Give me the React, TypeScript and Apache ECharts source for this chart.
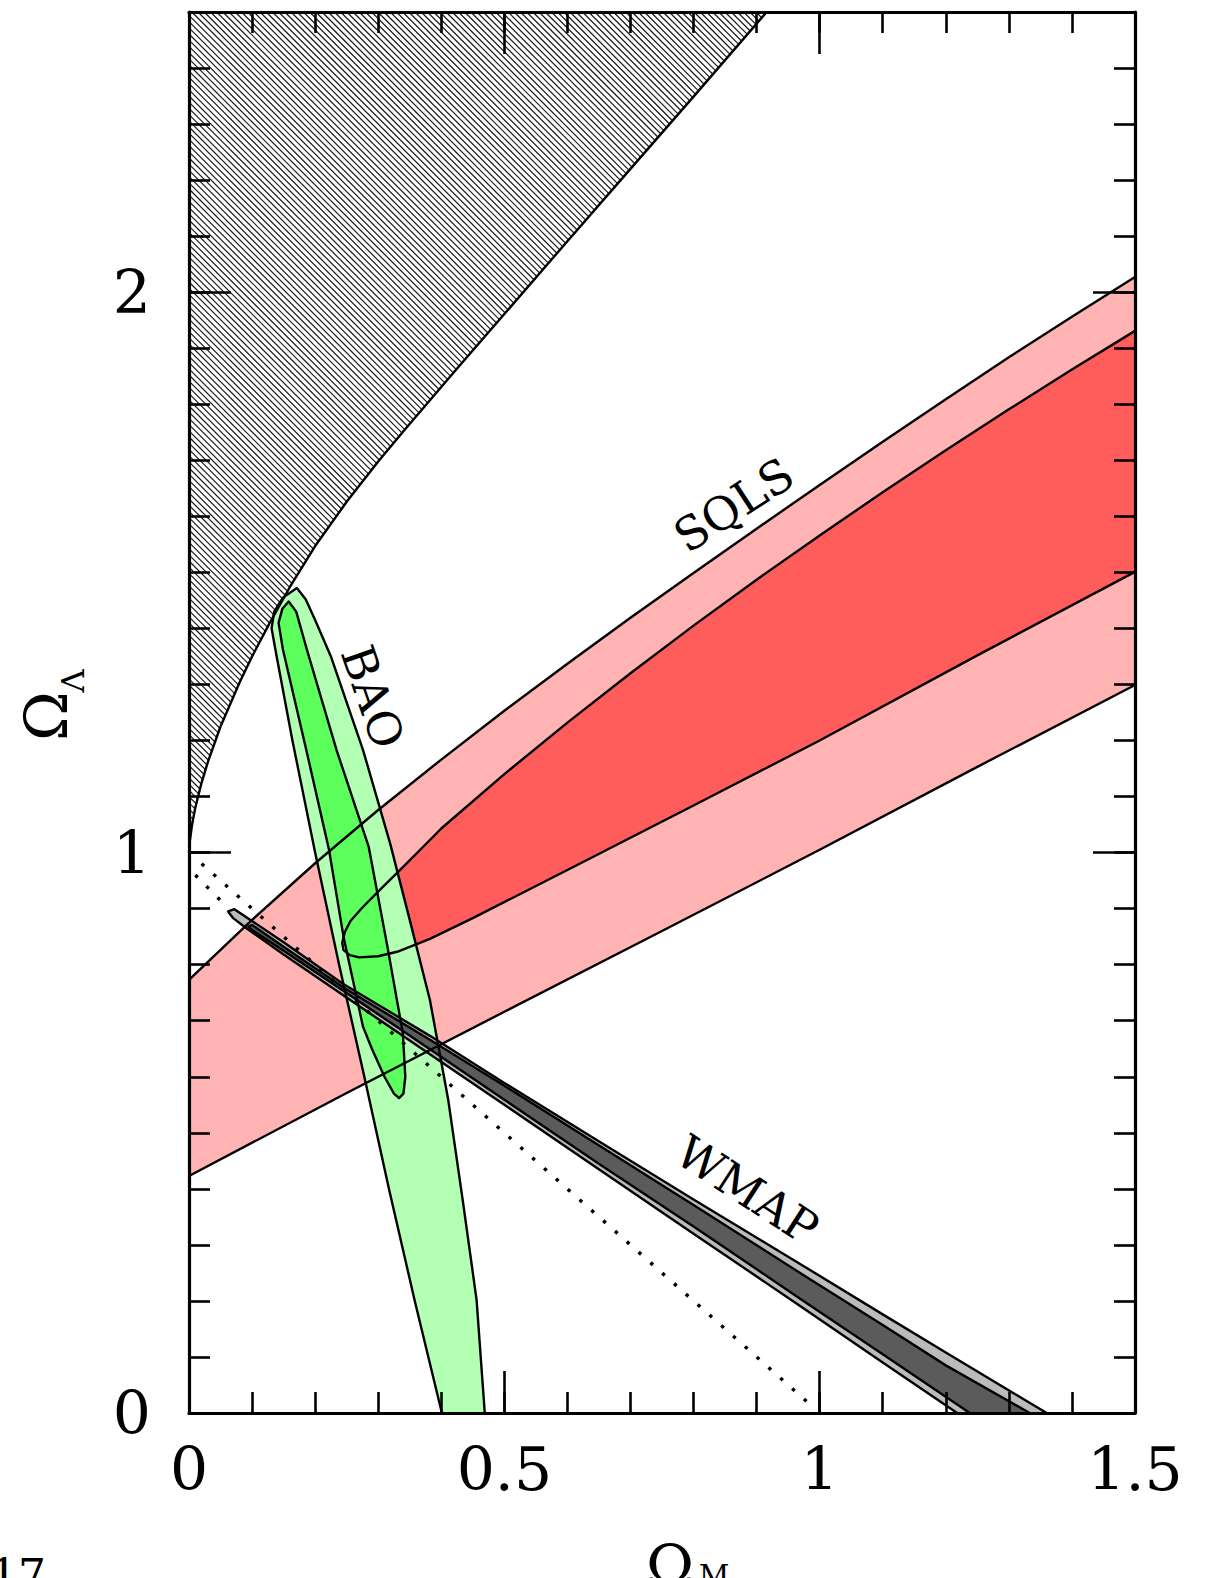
import React, { useEffect, useRef } from "react";
import * as echarts from "echarts";

type Pt = [number, number];

// ---- axis tick labels ----
const xTickLabels = ["0", "0.5", "1", "1.5"];
const yTickLabels = ["0", "1", "2"];

// ---- boundary of the hatched region (Omega_M, Omega_Lambda) ----
const hatchBoundary: Pt[] = [
  [0, 1.0], [0.001, 1.018], [0.005, 1.051], [0.01, 1.08], [0.02, 1.125], [0.03, 1.162], [0.05, 1.225],
  [0.08, 1.303], [0.1, 1.35], [0.128, 1.41], [0.16, 1.474], [0.2, 1.547], [0.25, 1.626], [0.3, 1.698],
  [0.34, 1.752], [0.42, 1.857], [0.5, 1.961], [0.6, 2.091], [0.7, 2.22], [0.8, 2.349], [0.916, 2.5],
];

// ---- SQLS contours ----
const sqlsOuterUpper: Pt[] = [
  [0, 0.773], [0.1, 0.88], [0.2, 0.981], [0.3, 1.076], [0.4, 1.166], [0.5, 1.253], [0.6, 1.337],
  [0.7, 1.419], [0.8, 1.499], [0.9, 1.578], [1.0, 1.656], [1.1, 1.733], [1.2, 1.809], [1.3, 1.884],
  [1.4, 1.956], [1.5, 2.027],
];
const sqlsOuterLower: Pt[] = [
  [0, 0.423], [0.25, 0.571], [0.5, 0.716], [0.75, 0.86], [1.0, 1.005], [1.25, 1.153], [1.5, 1.299],
];
const sqlsInnerUpper: Pt[] = [
  [0.243, 0.839], [0.247, 0.858], [0.256, 0.878], [0.275, 0.902], [0.303, 0.934], [0.34, 0.975],
  [0.371, 1.01], [0.4, 1.043], [0.5, 1.14], [0.6, 1.232], [0.7, 1.32], [0.8, 1.405], [0.9, 1.487],
  [1.0, 1.566], [1.1, 1.643], [1.2, 1.718], [1.3, 1.791], [1.4, 1.862], [1.5, 1.931],
];
const sqlsInnerLower: Pt[] = [
  [0.243, 0.839], [0.245, 0.826], [0.255, 0.817], [0.27, 0.813], [0.3, 0.815], [0.33, 0.823],
  [0.382, 0.846], [0.45, 0.883], [0.6, 0.969], [0.8, 1.084], [1.0, 1.2], [1.25, 1.352], [1.5, 1.501],
];

// ---- BAO contours ----
const baoOuter: Pt[] = [
  [0.401, 0], [0.358, 0.2], [0.317, 0.4], [0.278, 0.6], [0.238, 0.8], [0.2, 1.0], [0.164, 1.2],
  [0.139, 1.35], [0.131, 1.4], [0.135, 1.43], [0.149, 1.455], [0.171, 1.472], [0.185, 1.452],
  [0.2, 1.415], [0.225, 1.35], [0.276, 1.183], [0.319, 1.016], [0.35, 0.88], [0.382, 0.737],
  [0.411, 0.559], [0.434, 0.38], [0.456, 0.202], [0.469, 0],
];
const baoInner: Pt[] = [
  [0.158, 1.448], [0.17, 1.43], [0.187, 1.362], [0.234, 1.183], [0.285, 1.01], [0.315, 0.83],
  [0.339, 0.678], [0.343, 0.6], [0.34, 0.57], [0.333, 0.562], [0.325, 0.57], [0.31, 0.6],
  [0.29, 0.65], [0.276, 0.689], [0.245, 0.85], [0.222, 1.005], [0.186, 1.183], [0.149, 1.362],
  [0.142, 1.41], [0.148, 1.435],
];

// ---- WMAP contours ----
const wmapOuter: Pt[] = [
  [1.218, 0], [1.1, 0.09], [0.969, 0.191], [0.8, 0.32], [0.651, 0.434], [0.5, 0.55], [0.382, 0.64],
  [0.244, 0.746], [0.15, 0.818], [0.09, 0.866], [0.07, 0.883], [0.062, 0.895], [0.072, 0.899],
  [0.15, 0.84], [0.244, 0.766], [0.382, 0.673], [0.5, 0.589], [0.651, 0.484], [0.8, 0.381],
  [0.969, 0.266], [1.1, 0.176], [1.2, 0.108], [1.36, 0],
];
const wmapInner: Pt[] = [
  [1.238, 0], [1.1, 0.105], [0.969, 0.204], [0.8, 0.333], [0.651, 0.444], [0.5, 0.559], [0.382, 0.649],
  [0.244, 0.754], [0.15, 0.825], [0.1, 0.862], [0.094, 0.868], [0.1, 0.871], [0.15, 0.832],
  [0.244, 0.76], [0.382, 0.666], [0.5, 0.584], [0.651, 0.477], [0.8, 0.371], [0.969, 0.25],
  [1.1, 0.157], [1.2, 0.085], [1.333, 0],
];

// ---- dotted lines ----
const flatLine: Pt[] = [[0.02, 0.98], [0.985, 0.015]];
const wmapDotted: Pt[] = [[0.01, 0.96], [0.062, 0.901]];

// ---- labels inside the plot: [text, x, y, angle in degrees] ----
const regionLabels: [string, number, number, number][] = [
  ["SQLS", 0.864, 1.62, 33],
  ["BAO", 0.291, 1.278, -71],
  ["WMAP", 0.885, 0.398, -33],
];

const COLORS = {
  pink: "#ffb3b3",
  red: "#ff5c5c",
  lightGreen: "#b3ffb3",
  green: "#5cff5c",
  lightGray: "#bbbbbb",
  darkGray: "#5b5b5b",
};

const SERIF = '"DejaVu Serif", serif';

function hatchSegments(poly: number[][], spacing: number) {
  let cmin = Infinity;
  let cmax = -Infinity;
  for (const p of poly) {
    const c = p[1] - p[0];
    cmin = Math.min(cmin, c);
    cmax = Math.max(cmax, c);
  }
  const segs: number[][][] = [];
  const start = Math.ceil(cmin / spacing) * spacing;
  for (let c = start; c <= cmax; c += spacing) {
    const xs: number[] = [];
    for (let i = 0; i < poly.length; i++) {
      const a = poly[i];
      const b = poly[(i + 1) % poly.length];
      const fa = a[1] - a[0] - c;
      const fb = b[1] - b[0] - c;
      if ((fa < 0 && fb >= 0) || (fa >= 0 && fb < 0)) {
        const t = fa / (fa - fb);
        xs.push(a[0] + t * (b[0] - a[0]));
      }
    }
    xs.sort((m, n) => m - n);
    for (let k = 0; k + 1 < xs.length; k += 2) {
      segs.push([[xs[k], xs[k] + c], [xs[k + 1], xs[k + 1] + c]]);
    }
  }
  return segs;
}

function fmt(v: number, list: string[]) {
  const s = String(Math.round(v * 100) / 100);
  return list.includes(s) ? s : "";
}

function xAxisDef(position: string, interval: number, len: number, labels: boolean, lineShow: boolean) {
  return {
    type: "value",
    min: 0,
    max: 1.5,
    interval,
    position,
    z: 10,
    axisLine: { show: lineShow, onZero: false, lineStyle: { color: "#000", width: 3.2 } },
    axisTick: { show: true, inside: true, length: len, lineStyle: { color: "#000", width: 2.6 } },
    axisLabel: {
      show: labels,
      margin: 26,
      fontFamily: SERIF,
      fontSize: 60,
      lineHeight: 60,
      color: "#000",
      formatter: (v: number) => fmt(v, xTickLabels),
    },
    splitLine: { show: false },
  };
}

function yAxisDef(position: string, interval: number, len: number, labels: boolean, lineShow: boolean) {
  return {
    type: "value",
    min: 0,
    max: 2.5,
    interval,
    position,
    z: 10,
    axisLine: { show: lineShow, onZero: false, lineStyle: { color: "#000", width: 3.2 } },
    axisTick: { show: true, inside: true, length: len, lineStyle: { color: "#000", width: 2.6 } },
    axisLabel: {
      show: labels,
      margin: 38,
      fontFamily: SERIF,
      fontSize: 60,
      color: "#000",
      formatter: (v: number) => fmt(v, yTickLabels),
    },
    splitLine: { show: false },
  };
}

export default function App() {
  const ref = useRef<HTMLDivElement>(null);

  useEffect(() => {
    document.body.style.margin = "0";
    document.body.style.overflow = "hidden";
    const chart = echarts.init(ref.current!, null, { renderer: "svg" });

    const renderItem = (_params: any, api: any) => {
      const P = (pts: Pt[]) => pts.map((p) => api.coord(p));
      const rev = (pts: Pt[]) => pts.slice().reverse();
      const fill = (pts: Pt[], color: string) => ({
        type: "polygon",
        shape: { points: P(pts) },
        style: { fill: color, stroke: "none" },
      });
      const stroke = (pts: Pt[], closed = false) => ({
        type: closed ? "polygon" : "polyline",
        shape: { points: P(pts) },
        style: { fill: "none", stroke: "#000", lineWidth: 2.4, lineJoin: "round" },
      });
      const dotted = (pts: Pt[]) => ({
        type: "polyline",
        shape: { points: P(pts) },
        style: { fill: "none", stroke: "#000", lineWidth: 3.4, lineDash: [3.4, 12.4] },
      });

      const hatchPoly = P([...hatchBoundary, [0, 2.5]]);
      const hatchLines = hatchSegments(hatchPoly, 6.2).map((s) => ({
        type: "line",
        shape: { x1: s[0][0], y1: s[0][1], x2: s[1][0], y2: s[1][1] },
        style: { stroke: "#1a1a1a", lineWidth: 1.2 },
      }));

      const labels = regionLabels.map(([t, x, y, a]) => {
        const c = api.coord([x, y]);
        return {
          type: "text",
          x: c[0],
          y: c[1],
          rotation: (a * Math.PI) / 180,
          style: {
            text: t,
            fill: "#000",
            font: `46px ${SERIF}`,
            align: "center",
            verticalAlign: "middle",
          },
        };
      });

      const sqlsInner = [...rev(sqlsInnerUpper), ...sqlsInnerLower.slice(1)];

      return {
        type: "group",
        children: [
          ...hatchLines,
          fill([...sqlsOuterLower, ...rev(sqlsOuterUpper)], COLORS.pink),
          fill(sqlsInner, COLORS.red),
          fill(baoOuter, COLORS.lightGreen),
          fill(baoInner, COLORS.green),
          fill(wmapOuter, COLORS.lightGray),
          fill(wmapInner, COLORS.darkGray),
          stroke(hatchBoundary),
          stroke(sqlsOuterUpper),
          stroke(sqlsOuterLower),
          stroke(sqlsInner),
          stroke(baoOuter),
          stroke(baoInner, true),
          stroke(wmapOuter),
          stroke(wmapInner),
          dotted(flatLine),
          dotted(wmapDotted),
          ...labels,
        ],
      };
    };

    const option: any = {
      animation: false,
      backgroundColor: "#fff",
      grid: { left: 189, top: 12, width: 946, height: 1401, outerBoundsMode: "none", containLabel: false },
      xAxis: [
        xAxisDef("bottom", 0.5, 42, true, true),
        xAxisDef("bottom", 0.1, 21, false, false),
        xAxisDef("top", 0.5, 42, false, true),
        xAxisDef("top", 0.1, 21, false, false),
      ],
      yAxis: [
        yAxisDef("left", 1, 42, true, true),
        yAxisDef("left", 0.1, 21, false, false),
        yAxisDef("right", 1, 42, false, true),
        yAxisDef("right", 0.1, 21, false, false),
      ],
      series: [
        {
          type: "custom",
          coordinateSystem: "cartesian2d",
          xAxisIndex: 0,
          yAxisIndex: 0,
          silent: true,
          data: [[0, 0]],
          renderItem,
        },
      ],
      graphic: [
        {
          type: "text",
          x: 46,
          y: 716,
          rotation: Math.PI / 2,
          style: { text: "Ω", font: `60px ${SERIF}`, fill: "#000", align: "center", verticalAlign: "middle" },
        },
        {
          type: "text",
          x: 73,
          y: 681,
          rotation: Math.PI / 2,
          style: { text: "Λ", font: `32px ${SERIF}`, fill: "#000", align: "center", verticalAlign: "middle" },
        },
        {
          type: "text",
          x: 670,
          y: 1566,
          style: { text: "Ω", font: `58px ${SERIF}`, fill: "#000", align: "center", verticalAlign: "middle" },
        },
        {
          type: "text",
          x: 714,
          y: 1575,
          style: { text: "M", font: `30px ${SERIF}`, fill: "#000", align: "center", verticalAlign: "middle" },
        },
        {
          type: "text",
          x: 46,
          y: 1575,
          style: { text: "17", font: `44px ${SERIF}`, fill: "#000", align: "right", verticalAlign: "middle" },
        },
      ],
    };

    chart.setOption(option);
    return () => chart.dispose();
  }, []);

  return <div ref={ref} style={{ width: 1211, height: 1578 }} />;
}
